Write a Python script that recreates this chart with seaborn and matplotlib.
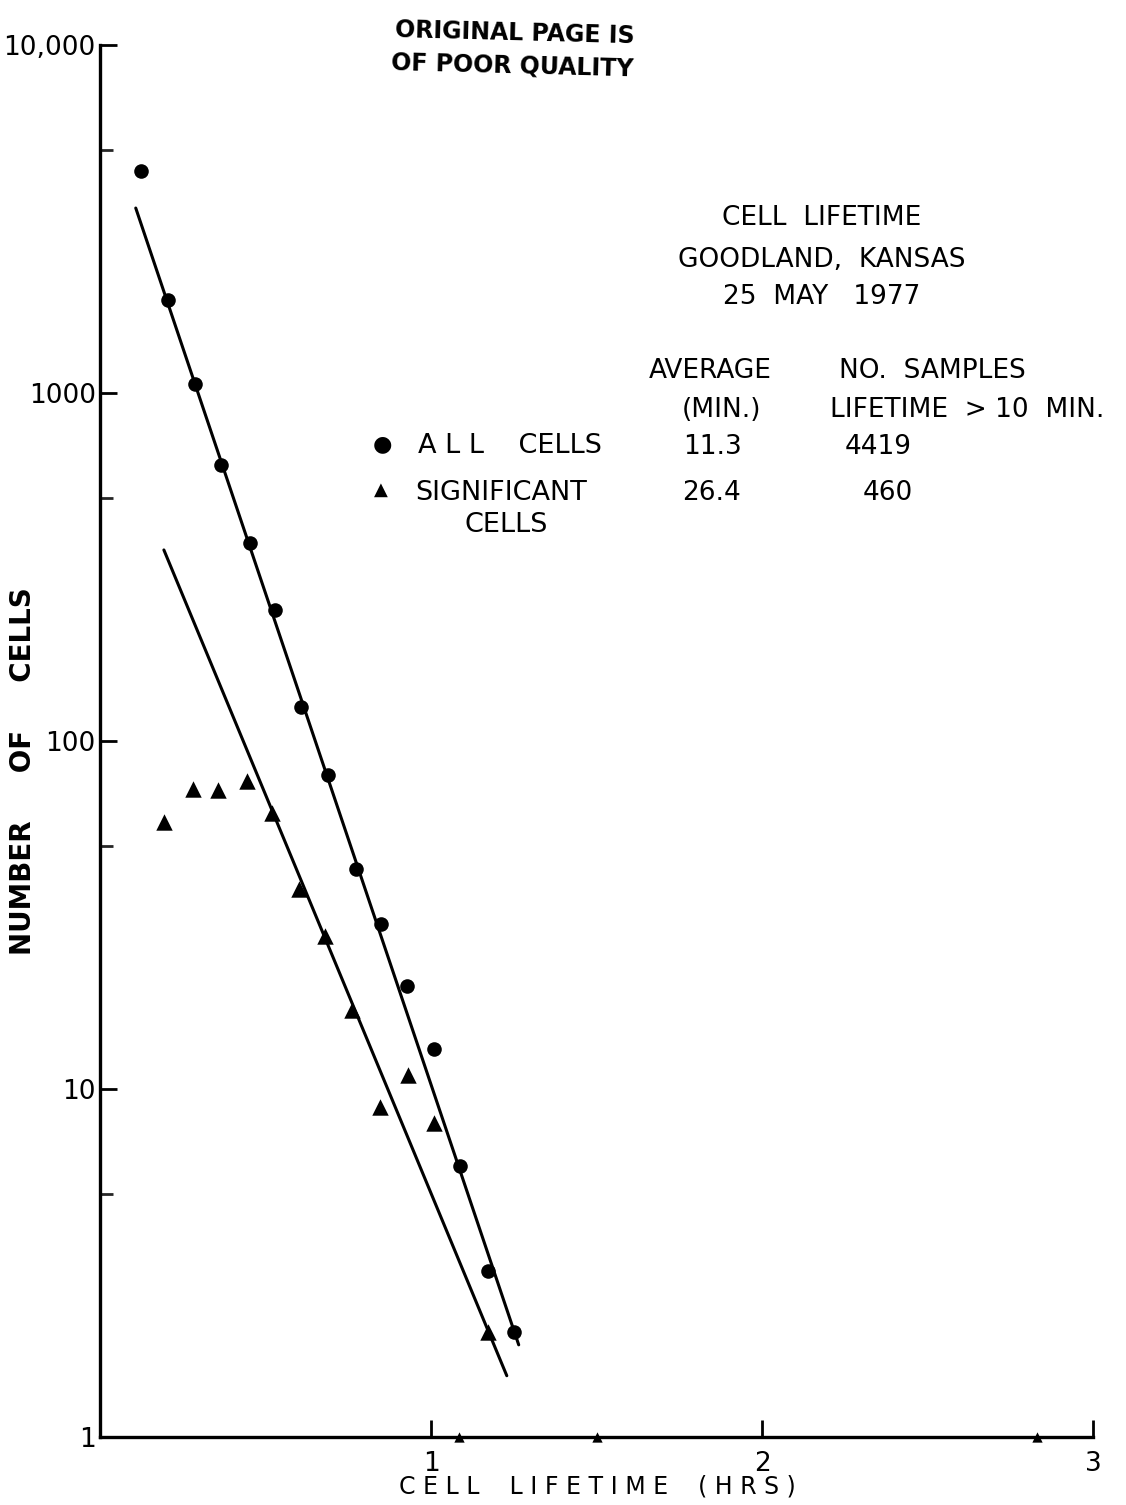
import matplotlib
matplotlib.use("Agg")
import matplotlib.pyplot as plt
from matplotlib.ticker import FixedLocator, NullFormatter
import seaborn as sns

# Cell lifetime histogram (hours) vs number of cells
all_hours = [0.123, 0.205, 0.286, 0.367, 0.452, 0.530, 0.608, 0.690,
             0.774, 0.849, 0.928, 1.009, 1.087, 1.172, 1.250]
all_counts = [4350, 1850, 1060, 620, 370, 238, 125, 80,
              43, 29.8, 19.8, 13.0, 6.0, 3.0, 2.0]

sig_hours = [0.193, 0.280, 0.358, 0.443, 0.521, 0.602, 0.681, 0.762,
             0.846, 0.931, 1.009, 1.172]
sig_counts = [58.5, 72.8, 72.3, 76.7, 62.1, 37.6, 27.5, 16.9,
              8.9, 11.0, 8.0, 2.0]

# single long-lived cells sitting on the bottom axis
single_hours = [1.084, 1.500, 2.830]
single_counts = [1, 1, 1]

# fitted exponential lines (end points)
all_fit_hours = [0.108, 1.265]
all_fit_counts = [3400, 1.84]
sig_fit_hours = [0.193, 1.229]
sig_fit_counts = [354, 1.50]

y_major = [1, 10, 100, 1000, 10000]
y_major_labels = ["1", "10", "100", "1000", "10,000"]
y_minor = [5, 50, 500, 5000]
x_major = [1, 2, 3]
x_major_labels = ["1", "2", "3"]

sns.set_theme(style="ticks")
plt.rcParams["font.family"] = ["DejaVu Sans"]

W, H = 1126, 1505
fig = plt.figure(figsize=(W / 100, H / 100), dpi=100)
fig.patch.set_facecolor("white")
ax = fig.add_axes([100 / W, (H - 1437) / H, 993 / W, 1392 / H])
ax.set_facecolor("white")

lw = 2.2
sns.lineplot(x=all_fit_hours, y=all_fit_counts, ax=ax, color="black",
             linewidth=lw, estimator=None, sort=False)
sns.lineplot(x=sig_fit_hours, y=sig_fit_counts, ax=ax, color="black",
             linewidth=lw, estimator=None, sort=False)

sns.scatterplot(x=all_hours, y=all_counts, ax=ax, marker="o", s=110,
                color="black", edgecolor="black", linewidth=0, zorder=3)
sns.scatterplot(x=sig_hours, y=sig_counts, ax=ax, marker="^", s=140,
                color="black", edgecolor="black", linewidth=0, zorder=3)
sns.scatterplot(x=single_hours, y=single_counts, ax=ax, marker="^", s=55,
                color="black", edgecolor="black", linewidth=0, zorder=3,
                clip_on=False)

ax.set_yscale("log")
ax.set_xlim(0, 3)
ax.set_ylim(1, 10000)

ax.yaxis.set_major_locator(FixedLocator(y_major))
ax.set_yticklabels(y_major_labels)
ax.yaxis.set_minor_locator(FixedLocator(y_minor))
ax.yaxis.set_minor_formatter(NullFormatter())
ax.xaxis.set_major_locator(FixedLocator(x_major))
ax.set_xticklabels(x_major_labels)

sns.despine(ax=ax)
for side in ("left", "bottom"):
    ax.spines[side].set_linewidth(2.4)
    ax.spines[side].set_color("black")

ax.tick_params(axis="y", which="major", direction="in", length=12, width=2,
               labelsize=19, pad=3, colors="black")
ax.tick_params(axis="y", which="minor", direction="in", length=9, width=2)
ax.tick_params(axis="x", which="major", direction="in", length=12, width=2,
               labelsize=19, pad=10, colors="black")

ax.set_xlabel("C E L L    L I F E T I M E    ( H R S )", fontsize=17,
              color="black")
ax.xaxis.set_label_coords(0.5005, -0.027)
ax.set_ylabel("NUMBER     OF     CELLS", fontsize=20, fontweight="bold",
              color="black")
ax.yaxis.set_label_coords(-0.0634, 0.478)


def ftext(x, y, s, **kw):
    kw.setdefault("fontsize", 19)
    kw.setdefault("color", "black")
    kw.setdefault("va", "center")
    fig.text(x / W, 1 - y / H, s, **kw)


# stamp
ftext(515, 33, "ORIGINAL PAGE IS", ha="center", fontsize=17,
      fontweight="bold", rotation=-1.5)
ftext(512, 66, "OF POOR QUALITY", ha="center", fontsize=17,
      fontweight="bold", rotation=-1.5)

# title block
ftext(822, 218, "CELL  LIFETIME", ha="center")
ftext(822, 260, "GOODLAND,  KANSAS", ha="center")
ftext(822, 297, "25  MAY   1977", ha="center")

# table header
ftext(710, 371, "AVERAGE", ha="center")
ftext(932, 371, "NO.  SAMPLES", ha="center")
ftext(722, 410, "(MIN.)", ha="center")
ftext(967, 410, "LIFETIME  > 10  MIN.", ha="center")

# table rows
ftext(712, 447, "11.3", ha="center")
ftext(878, 447, "4419", ha="center")
ftext(712, 493, "26.4", ha="center")
ftext(888, 493, "460", ha="center")

# legend
ftext(382, 444, "\u25CF", ha="center", fontsize=16)
ftext(418, 446, "A L L    CELLS", ha="left", fontsize=19.5)
ftext(381, 490, "\u25B2", ha="center", fontsize=13)
ftext(415, 493, "SIGNIFICANT", ha="left", fontsize=19.5)
ftext(506, 525, "CELLS", ha="center", fontsize=19.5)

fig.savefig("out.png", dpi=100, facecolor="white")
